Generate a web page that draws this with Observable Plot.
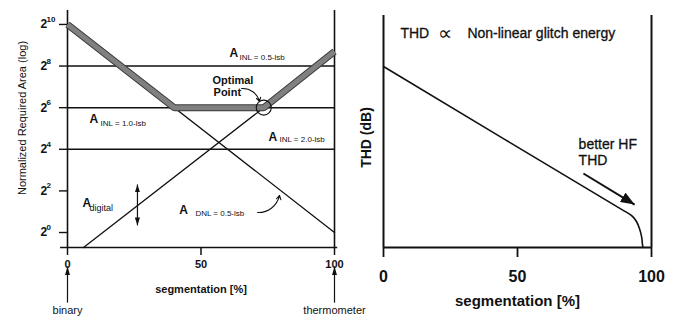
<!DOCTYPE html>
<html><head><meta charset="utf-8">
<script src="https://cdn.jsdelivr.net/npm/d3@7"></script>
<script src="https://cdn.jsdelivr.net/npm/@observablehq/plot@0.6"></script>
<style>
body{margin:0;background:#fff;}
#wrap{position:relative;width:675px;height:322px;overflow:hidden;background:#fff;}
#left{position:absolute;left:0;top:0;}
#right{position:absolute;left:340px;top:0;}
</style></head><body><div id="wrap"><div id="left"></div><div id="right"></div></div>
<script>
// ================= LEFT PANEL DATA =================
const segTicks = [0, 50, 100];                 // x tick values (segmentation %)
const log2Ticks = [0, 2, 4, 6, 8, 10];          // y tick exponents (2^n)
const leftYDomain = [-0.72, 10.67];
const inlLevels = [4, 6, 8];                     // A_INL = 2.0, 1.0, 0.5 lsb (log2 area)
const totalX = [0, 40, 73.5, 100];               // grey total-area curve
const totalY = [10, 6, 6, 8.7];
const dnlX = [0, 100];                           // A_DNL = 0.5 lsb
const dnlY = [10, 0];
const digitalX = [6, 73.5];                      // A_digital
const digitalY = [-0.72, 6];
const optimalPoint = [{x: 73.5, y: 6}];
const areaLabels = [
  {x: 60.7, y: 8.61, sx: 64.4, sy: 8.41, sub: "INL = 0.5-lsb"},
  {x: 8.2,  y: 5.43, sx: 12.4, sy: 5.24, sub: "INL = 1.0-lsb"},
  {x: 75.3, y: 4.57, sx: 79.4, sy: 4.47, sub: "INL = 2.0-lsb"},
  {x: 41.9, y: 1.06, sx: 47.9, sy: 0.91, sub: "DNL = 0.5-lsb"}
];
const digitalLabel = [{x: 5.6, y: 1.39, sx: 8.2, sy: 1.15, sub: "digital"}];
const optimalText = [{x: 54.3, y: 7.31, t: "Optimal"}, {x: 54.7, y: 6.73, t: "Point"}];
const optimalArrow = [{x1: 65.2, y1: 6.92, x2: 71.9, y2: 6.30}];
const dnlArrow = [{x1: 71.2, y1: 0.96, x2: 79.4, y2: 1.78}];
const digitalSpan = [{x: 26.2, y1: 2.31, y2: 0.34}];
const endLabels = [{x: 0, t: "binary"}, {x: 100, t: "thermometer"}];
const endArrows = [{x: 0, y1: -3.37, y2: -1.63}, {x: 100, y1: -3.37, y2: -1.63}];

// ================= RIGHT PANEL DATA =================
const thdX = [0, 89.6, 91.4, 92.9, 94.4, 95.5, 96.3, 96.6, 96.8];
const thdY = [78, 15.9, 14.7, 13.4, 11.2, 8.2, 4.7, 1.7, 0];
const rightYDomain = [0, 100];
const titleWords = [
  {x: 6.3, t: "THD"},
  {x: 31.3, t: "Non-linear glitch energy"}
];
const titleSymbol = [{x: 23.1, t: "∝"}];
const titleY = 92.2;
const hfText = [{x: 72.8, y: 44.4, t: "better HF"}, {x: 72.8, y: 37.5, t: "THD"}];
const hfArrow = [{x1: 74.6, y1: 31.9, x2: 93.7, y2: 18.5}];

const FONT = "'Liberation Sans', Arial, Helvetica, sans-serif";
const INK = "#111";

function head(len, half) {
  return (color, context) => {
    const ns = "http://www.w3.org/2000/svg";
    const doc = (context && context.document) || document;
    const m = doc.createElementNS(ns, "marker");
    m.setAttribute("viewBox", `${-len} ${-half} ${len} ${2 * half}`);
    m.setAttribute("markerWidth", len);
    m.setAttribute("markerHeight", 2 * half);
    m.setAttribute("markerUnits", "userSpaceOnUse");
    m.setAttribute("orient", "auto-start-reverse");
    m.setAttribute("refX", 0);
    m.setAttribute("refY", 0);
    const p = doc.createElementNS(ns, "path");
    p.setAttribute("d", `M${-len},${-half}L0,0L${-len},${half}Z`);
    p.setAttribute("fill", color);
    p.setAttribute("stroke", "none");
    m.appendChild(p);
    return m;
  };
}

const total = totalX.map((x, i) => ({x, y: totalY[i]}));
const dnl = dnlX.map((x, i) => ({x, y: dnlY[i]}));
const digital = digitalX.map((x, i) => ({x, y: digitalY[i]}));

const left = Plot.plot({
  width: 340, height: 322,
  marginLeft: 67, marginRight: 6, marginTop: 10, marginBottom: 75,
  x: {domain: [0, 100], axis: null},
  y: {domain: leftYDomain, axis: null},
  style: {fontFamily: FONT, color: INK, background: "transparent", overflow: "visible"},
  marks: [
    Plot.ruleY(inlLevels, {stroke: INK, strokeWidth: 1.5}),
    Plot.ruleX(segTicks.filter(d => d !== 50), {stroke: INK, strokeWidth: 1.6}),
    Plot.ruleY([leftYDomain[0]], {x1: -2.6, x2: 101.2, stroke: INK, strokeWidth: 1.6}),
    Plot.line(dnl, {x: "x", y: "y", stroke: INK, strokeWidth: 1.3}),
    Plot.line(digital, {x: "x", y: "y", stroke: INK, strokeWidth: 1.3}),
    Plot.line(total, {x: "x", y: "y", stroke: "#3a3a3a", strokeWidth: 7, strokeLinecap: "butt", strokeLinejoin: "miter"}),
    Plot.line(total, {x: "x", y: "y", stroke: "#808080", strokeWidth: 5, strokeLinecap: "butt", strokeLinejoin: "miter"}),
    Plot.dot(optimalPoint, {x: "x", y: "y", r: 7.5, stroke: INK, strokeWidth: 1.1, fill: "none"}),
    Plot.axisX({ticks: segTicks, tickSize: 8, tickPadding: 5, strokeWidth: 1.5, fontSize: 11, fontWeight: "bold", label: null}),
    Plot.axisY({ticks: log2Ticks, tickSize: 8, tickFormat: () => "", strokeWidth: 1.4, label: null}),
    Plot.text(log2Ticks, {y: d => d, frameAnchor: "left", text: () => "2", dx: -27, textAnchor: "start", fontSize: 12, fontWeight: "bold", fill: INK}),
    Plot.text(log2Ticks, {y: d => d, frameAnchor: "left", text: d => String(d), dx: -21, dy: -5, textAnchor: "start", fontSize: 8, fontWeight: "bold", fill: INK}),
    Plot.text(["Normalized Required Area (log)"], {frameAnchor: "left", textAnchor: "middle", rotate: -90, dx: -45, dy: -11, fontSize: 11, fill: INK}),
    Plot.text(["segmentation [%]"], {frameAnchor: "bottom", textAnchor: "middle", dy: 45, fontSize: 11, fontWeight: "bold", fill: INK}),
    Plot.text(endLabels, {x: "x", text: "t", frameAnchor: "bottom", textAnchor: "middle", dy: 66, fontSize: 11, fill: INK}),
    Plot.link(endArrows, {x1: "x", x2: "x", y1: "y1", y2: "y2", stroke: INK, strokeWidth: 1.2, markerEnd: head(9, 2.6)}),
    Plot.text(areaLabels, {x: "x", y: "y", text: () => "A", textAnchor: "start", fontSize: 12, fontWeight: "bold", fill: INK}),
    Plot.text(areaLabels, {x: "sx", y: "sy", text: "sub", textAnchor: "start", fontSize: 8, fill: INK}),
    Plot.text(digitalLabel, {x: "x", y: "y", text: () => "A", textAnchor: "start", fontSize: 12, fontWeight: "bold", fill: INK}),
    Plot.text(digitalLabel, {x: "sx", y: "sy", text: "sub", textAnchor: "start", fontSize: 9, fill: INK}),
    Plot.text(optimalText, {x: "x", y: "y", text: "t", textAnchor: "start", fontSize: 11, fontWeight: "bold", fill: INK}),
    Plot.arrow(optimalArrow, {x1: "x1", y1: "y1", x2: "x2", y2: "y2", bend: 40, headLength: 6, stroke: INK, strokeWidth: 1.1}),
    Plot.arrow(dnlArrow, {x1: "x1", y1: "y1", x2: "x2", y2: "y2", bend: -40, headLength: 6, stroke: INK, strokeWidth: 1.1}),
    Plot.link(digitalSpan, {x1: "x", x2: "x", y1: "y1", y2: "y2", stroke: INK, strokeWidth: 1.2, markerStart: head(8, 2.6), markerEnd: head(8, 2.6)})
  ]
});
document.getElementById("left").appendChild(left);

const thd = thdX.map((x, i) => ({x, y: thdY[i]}));

const right = Plot.plot({
  width: 335, height: 322,
  marginLeft: 43, marginRight: 24, marginTop: 15, marginBottom: 75,
  x: {domain: [0, 100], axis: null},
  y: {domain: rightYDomain, axis: null},
  style: {fontFamily: FONT, color: INK, background: "transparent", overflow: "visible"},
  marks: [
    Plot.ruleX(segTicks.filter(d => d !== 50), {stroke: INK, strokeWidth: 2}),
    Plot.ruleY([rightYDomain[0]], {stroke: INK, strokeWidth: 2}),
    Plot.line(thd, {x: "x", y: "y", curve: "catmull-rom", stroke: INK, strokeWidth: 1.6}),
    Plot.axisX({ticks: segTicks, tickSize: 10, tickPadding: 13, strokeWidth: 1.8, fontSize: 16, fontWeight: "bold", label: null}),
    Plot.text(["THD (dB)"], {frameAnchor: "left", textAnchor: "middle", rotate: -90, dx: -17, dy: 6, fontSize: 14, fontWeight: "bold", fill: INK}),
    Plot.text(["segmentation [%]"], {frameAnchor: "bottom", textAnchor: "middle", dy: 58, fontSize: 15, fontWeight: "bold", fill: INK}),
    Plot.text(titleWords, {x: "x", y: () => titleY, text: "t", textAnchor: "start", fontSize: 14, fill: INK, stroke: INK, strokeWidth: 0.3}),
    Plot.text(titleSymbol, {x: "x", y: () => titleY, text: "t", textAnchor: "middle", fontSize: 20, fill: INK}),
    Plot.text(hfText, {x: "x", y: "y", text: "t", textAnchor: "start", fontSize: 14, fill: INK, stroke: INK, strokeWidth: 0.3}),
    Plot.link(hfArrow, {x1: "x1", y1: "y1", x2: "x2", y2: "y2", stroke: INK, strokeWidth: 2, markerEnd: head(14, 5.5)})
  ]
});
document.getElementById("right").appendChild(right);
</script>
</body></html>
